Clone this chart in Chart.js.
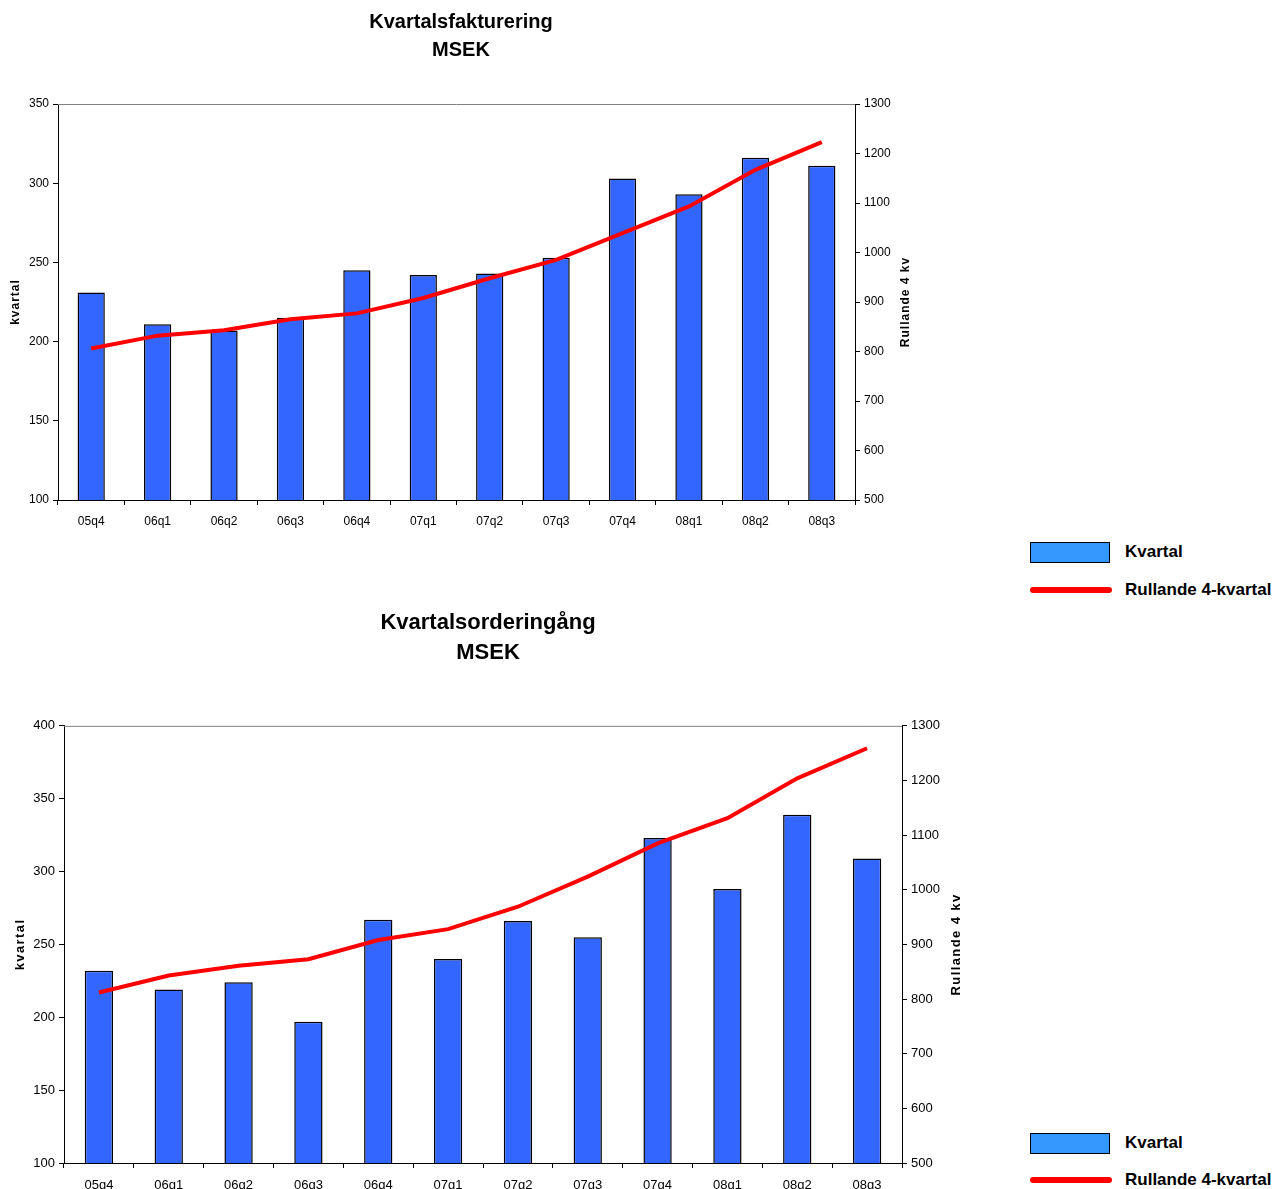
<!DOCTYPE html>
<html>
<head>
<meta charset="utf-8">
<script src="https://cdn.jsdelivr.net/npm/chart.js@4.4.1/dist/chart.umd.min.js"></script>
<style>
  body { margin: 0; background: #fff; overflow: hidden; font-family: "Liberation Sans", Arial, sans-serif; }
  canvas { position: absolute; left: 0; }
  #chart1 { top: 0; }
  #chart2 { top: 590px; }
  .legend { position: absolute; left: 1030px; font-weight: bold; font-size: 17px; color: #000; }
  .legend .row { position: absolute; left: 0; width: 260px; height: 24px; }
  .legend .box { position: absolute; left: 0; top: 2px; width: 78px; height: 19px; background: #3399ff; border: 1px solid #000; }
  .legend .line { position: absolute; left: 0; top: 9px; width: 82px; height: 6px; background: #ff0000; border-radius: 3px; }
  .legend .txt { position: absolute; left: 95px; top: 2px; white-space: nowrap; }
</style>
</head>
<body>
<canvas id="chart1" width="1000" height="545"></canvas>
<canvas id="chart2" width="1000" height="620"></canvas>

<div class="legend" style="top:540px">
  <div class="row" style="top:0"><div class="box"></div><div class="txt">Kvartal</div></div>
  <div class="row" style="top:38px"><div class="line"></div><div class="txt">Rullande 4-kvartal</div></div>
</div>
<div class="legend" style="top:1131px">
  <div class="row" style="top:0"><div class="box"></div><div class="txt">Kvartal</div></div>
  <div class="row" style="top:37px"><div class="line"></div><div class="txt">Rullande 4-kvartal</div></div>
</div>

<script>
const quarters = ['05q4', '06q1', '06q2', '06q3', '06q4', '07q1', '07q2', '07q3', '07q4', '08q1', '08q2', '08q3'];

// Kvartalsfakturering (MSEK)
const invoicedQuarter = [231, 211, 207, 215, 245, 242, 243, 253, 303, 293, 316, 311];
const invoicedRolling = [806, 832, 843, 865, 877, 908, 948, 985, 1039, 1093, 1167, 1223];

// Kvartalsorderingång (MSEK)
const ordersQuarter = [232, 219, 224, 197, 267, 240, 266, 255, 323, 288, 339, 309];
const ordersRolling = [812, 843, 861, 873, 908, 928, 969, 1024, 1085, 1131, 1204, 1259];

Chart.defaults.font.family = '"Liberation Sans", Arial, sans-serif';
Chart.defaults.color = '#000';

// grey line along the top of the plot area
const topBorder = {
    id: 'topBorder',
    afterDatasetsDraw(chart) {
        const { ctx, chartArea } = chart;
        ctx.save();
        ctx.strokeStyle = '#808080';
        ctx.lineWidth = 1;
        ctx.beginPath();
        ctx.moveTo(chartArea.left, chartArea.top + 0.5);
        ctx.lineTo(chartArea.right, chartArea.top + 0.5);
        ctx.stroke();
        ctx.restore();
    }
};

// axis titles, both read bottom-to-top, with a little letter spacing
const axisTitles = {
    id: 'axisTitles',
    afterDraw(chart, args, opts) {
        const { ctx, chartArea } = chart;
        const midY = (chartArea.top + chartArea.bottom) / 2;
        opts.items.forEach(item => {
            ctx.save();
            ctx.translate(item.x, midY);
            ctx.rotate(-Math.PI / 2);
            ctx.font = `bold ${opts.size}px "Liberation Sans", Arial, sans-serif`;
            ctx.letterSpacing = opts.spacing;
            ctx.fillStyle = '#000';
            ctx.textAlign = 'center';
            ctx.textBaseline = 'middle';
            ctx.fillText(item.text, 0, 0);
            ctx.restore();
        });
    }
};

function makeChart(id, title, bars, rolling, cfg) {
    const ctx = document.getElementById(id).getContext('2d');
    const axisGrid = { display: true, drawOnChartArea: false, drawTicks: true, tickLength: 5, color: '#000' };
    const axisBorder = { display: true, color: '#000', width: 1 };

    return new Chart(ctx, {
        type: 'bar',
        data: {
            labels: quarters,
            datasets: [
                {
                    type: 'line',
                    label: 'Rullande 4-kvartal',
                    data: rolling,
                    yAxisID: 'y1',
                    borderColor: '#ff0000',
                    borderWidth: 4,
                    pointRadius: 0,
                    tension: 0,
                    order: 0
                },
                {
                    label: 'Kvartal',
                    data: bars,
                    yAxisID: 'y',
                    backgroundColor: '#3366ff',
                    borderColor: '#000',
                    borderWidth: 1.5,
                    barPercentage: cfg.barPct,
                    categoryPercentage: 1,
                    order: 1
                }
            ]
        },
        options: {
            responsive: false,
            animation: false,
            layout: { padding: { left: cfg.padLeft, right: cfg.padRight, top: 0, bottom: cfg.padBottom } },
            plugins: {
                legend: { display: false },
                tooltip: { enabled: false },
                title: {
                    display: true,
                    text: [title, 'MSEK'],
                    font: { size: cfg.titleSize, weight: 'bold', lineHeight: cfg.titleLine },
                    padding: { top: cfg.titleTop, bottom: cfg.titleBottom },
                    color: '#000'
                },
                axisTitles: {
                    size: cfg.axisTitleSize,
                    spacing: cfg.axisTitleSpacing,
                    items: [
                        { text: 'kvartal', x: cfg.leftTitleX },
                        { text: 'Rullande 4 kv', x: cfg.rightTitleX }
                    ]
                }
            },
            scales: {
                x: {
                    grid: Object.assign({}, axisGrid, { offset: true }),
                    border: axisBorder,
                    ticks: { font: { size: cfg.tickSize }, padding: cfg.xTickPad, maxRotation: 0 },
                    afterFit: (s) => { s.height = cfg.xHeight; }
                },
                y: {
                    position: 'left',
                    min: cfg.yMin, max: cfg.yMax,
                    grid: axisGrid,
                    border: axisBorder,
                    ticks: { stepSize: cfg.yStep, font: { size: cfg.tickSize }, padding: 4, callback: v => String(v) },
                    afterFit: (s) => { s.width = cfg.leftWidth; }
                },
                y1: {
                    position: 'right',
                    min: 500, max: 1300,
                    grid: axisGrid,
                    border: axisBorder,
                    ticks: { stepSize: 100, font: { size: cfg.tickSize }, padding: 4, callback: v => String(v) },
                    afterFit: (s) => { s.width = cfg.rightWidth; }
                }
            }
        },
        plugins: [topBorder, axisTitles]
    });
}

makeChart('chart1', 'Kvartalsfakturering', invoicedQuarter, invoicedRolling, {
    barPct: 0.41, padLeft: 4, padRight: 82, padBottom: 15,
    titleSize: 20, titleLine: 1.4, titleTop: 8, titleBottom: 40,
    tickSize: 12, xTickPad: 9, xHeight: 30,
    axisTitleSize: 12, axisTitleSpacing: '1px', leftTitleX: 16, rightTitleX: 906,
    yMin: 100, yMax: 350, yStep: 50, leftWidth: 54, rightWidth: 63
});

makeChart('chart2', 'Kvartalsorderingång', ordersQuarter, ordersRolling, {
    barPct: 0.405, padLeft: 8, padRight: 32, padBottom: 17,
    titleSize: 22, titleLine: 1.36, titleTop: 18, titleBottom: 58,
    tickSize: 13, xTickPad: 10, xHeight: 30,
    axisTitleSize: 13, axisTitleSpacing: '1.4px', leftTitleX: 20, rightTitleX: 956,
    yMin: 100, yMax: 400, yStep: 50, leftWidth: 56, rightWidth: 66
});
</script>
</body>
</html>
